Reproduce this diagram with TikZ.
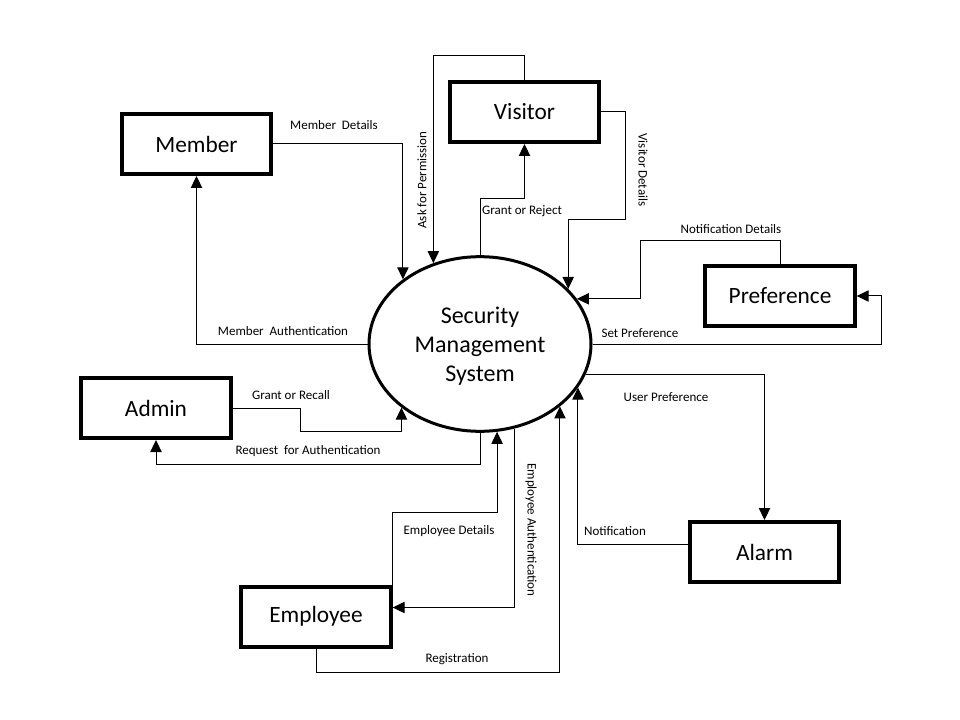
\documentclass[tikz,border=0pt]{standalone}
\usepackage{fontspec}
\setmainfont{Carlito}
\usetikzlibrary{arrows.meta,shapes.geometric,calc}
\begin{document}
\begin{tikzpicture}[x=0.75pt,y=-0.75pt,
  entity/.style={draw,line width=3pt,minimum width=112pt,minimum height=45pt,inner sep=0pt,font=\fontsize{17.5}{21}\selectfont},
  proc/.style={draw,ellipse,line width=2.25pt,minimum width=166.5pt,minimum height=131pt,inner sep=0pt,align=center,text depth=0pt,font=\fontsize{18}{21.75}\selectfont},
  flow/.style={line width=0.75pt,-{Triangle[width=8.5pt,length=9pt]}},
  lbl/.style={inner sep=0pt,font=\fontsize{9.75}{11}\selectfont}]
\useasboundingbox (0,0) rectangle (960,720);
\fill[white] (0,0) rectangle (960,720);

% process
\node[proc] (sms) at (480,344) {Security\\Management\\System};

% entities
\node[entity] (Member) at (196.5,144) {Member};
\node[entity] (Visitor) at (524.5,112) {Visitor};
\node[entity] (Preference) at (780,296) {Preference};
\node[entity] (Admin) at (156,408) {Admin};
\node[entity] (Alarm) at (764.5,552) {Alarm};
\node[entity] (Employee) at (316,616.5) {Employee};

% flows
\draw[flow] (Member.east) -| (sms.140.6);
\draw[flow] (sms.west) -| (Member.south);
\draw[flow] (Visitor.north) -- ++(0,-24) -| (sms.120.8);
\draw[flow] (sms.north) |- ($(Visitor.south)+(0,55)$) -- (Visitor.south);
\draw[flow] (Visitor.east) -- ++(24,0) -- ++(0,108) -| (sms.32.2);
\draw[flow] (Preference.north) -- ++(0,-23) -- ++(-140,0) |- (sms.25.5);
\draw[flow] (sms.east) -| ($(Preference.east)+(25,0)$) -- (Preference.east);
\draw[flow] (sms.-16.9) -| (Alarm.north);
\draw[flow] ($(Alarm.west)+(0,-8)$) -| (sms.-24.9);
\draw[flow] (Admin.east) -- ++(68,0) -- ++(0,23) -| (sms.219.4);
\draw[flow] (sms.south) |- ($(Admin.south)+(0,24)$) -- (Admin.south);
\draw[flow] (Employee.north east) -- ++(0,-72) -| (sms.-79.1);
\draw[flow] (sms.-68.8) |- ($(Employee.east)+(0,-9)$);
\draw[flow] (Employee.south) -- ++(0,24) -| (sms.-38.75);

% labels
\node[lbl] (lMD) at (334,125) {Member\ \ Details};
\node[lbl] (lMA) at (283,331) {Member\ \ Authentication};
\node[lbl,rotate=90] (lAP) at (422,180) {Ask for Permission};
\node[lbl] (lGR) at (522,211) {Grant or Reject};
\node[lbl,rotate=-90] (lVD) at (643,170) {Visitor Details};
\node[lbl] (lND) at (731,229) {Notification Details};
\node[lbl] (lSP) at (640,333) {Set Preference};
\node[lbl] (lUP) at (666,397) {User Preference};
\node[lbl] (lN) at (615,531) {Notification};
\node[lbl] (lGRc) at (291,395) {Grant or Recall};
\node[lbl] (lRA) at (308,451) {Request\ \ for Authentication};
\node[lbl] (lED) at (449,531) {Employee Details};
\node[lbl,rotate=-90] (lEA) at (531,530) {Employee Authentication};
\node[lbl] (lR) at (457,659) {Registration};
\end{tikzpicture}
\end{document}
